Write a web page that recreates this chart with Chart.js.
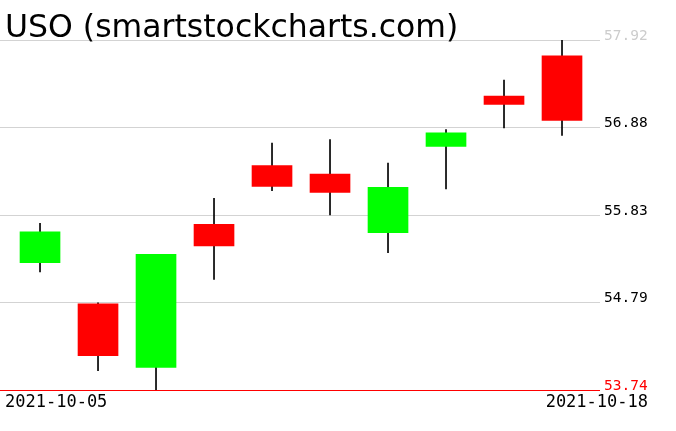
<!DOCTYPE html>
<html>
<head>
<meta charset="utf-8">
<script src="https://cdn.jsdelivr.net/npm/chart.js@4"></script>
<style>
  html, body { margin: 0; padding: 0; background: #fff; }
  #wrap { width: 676px; height: 431px; }
</style>
</head>
<body>
<div id="wrap"><canvas id="candleChart"></canvas></div>
<script>
const title = 'USO (smartstockcharts.com)';
const dates = ['2021-10-05', '2021-10-06', '2021-10-07', '2021-10-08', '2021-10-11',
               '2021-10-12', '2021-10-13', '2021-10-14', '2021-10-15', '2021-10-18'];
const opens  = [55.26, 54.77, 54.01, 55.72, 56.42, 56.32, 55.62, 56.65, 57.25, 57.73];
const highs  = [55.73, 54.78, 55.36, 56.03, 56.69, 56.73, 56.45, 56.85, 57.44, 57.92];
const lows   = [55.15, 53.97, 53.74, 55.06, 56.12, 55.83, 55.38, 56.14, 56.87, 56.78];
const closes = [55.63, 54.15, 55.36, 55.46, 56.17, 56.10, 56.16, 56.81, 57.15, 56.96];
const yTicks = [53.74, 54.79, 55.83, 56.88, 57.92];

const upColor = '#00ff00';
const downColor = '#ff0000';
const bodyColors = opens.map((o, i) => closes[i] >= o ? upColor : downColor);

// text that is not tied to a scale tick: title + first/last date
const textPlugin = {
  id: 'texts',
  afterDraw(chart) {
    const ctx = chart.ctx;
    ctx.save();
    ctx.fillStyle = '#000';
    ctx.textBaseline = 'alphabetic';
    ctx.font = '31.5px "DejaVu Sans"';
    ctx.textAlign = 'left';
    ctx.fillText(title, 5, 37);
    ctx.font = '17px "DejaVu Sans Mono"';
    ctx.fillText(dates[0], 5, 407);
    ctx.textAlign = 'right';
    ctx.fillText(dates[dates.length - 1], 648, 407);
    ctx.restore();
  }
};

const ctxCandle = document.getElementById('candleChart').getContext('2d');
const candleChart = new Chart(ctxCandle, {
  type: 'bar',
  data: {
    datasets: [
      {
        label: 'Wick',
        data: dates.map((d, i) => ({ x: i, y: [lows[i], highs[i]] })),
        backgroundColor: '#000',
        barThickness: 1,
        grouped: false,
        order: 2
      },
      {
        label: 'Body',
        data: dates.map((d, i) => ({ x: i, y: [opens[i], closes[i]] })),
        backgroundColor: bodyColors,
        barThickness: 40,
        grouped: false,
        order: 1
      }
    ]
  },
  options: {
    animation: false,
    responsive: true,
    maintainAspectRatio: false,
    layout: { padding: { top: 40, bottom: 41, left: 0, right: 0 } },
    scales: {
      x: {
        type: 'linear',
        offset: false,
        min: -0.69,
        max: 9.655,
        display: false
      },
      y: {
        position: 'right',
        min: yTicks[0],
        max: yTicks[yTicks.length - 1],
        afterBuildTicks: (scale) => { scale.ticks = yTicks.map(v => ({ value: v })); },
        afterFit: (scale) => { scale.width = 76; },
        border: { display: false },
        grid: {
          drawTicks: false,
          color: (c) => c.tick && c.tick.value === yTicks[0] ? '#ff0000' : '#d3d3d3'
        },
        ticks: {
          padding: 4,
          labelOffset: -4,
          font: { family: 'DejaVu Sans Mono', size: 14.5 },
          color: (c) => {
            if (c.tick.value === yTicks[0]) return '#ff0000';
            if (c.tick.value === yTicks[yTicks.length - 1]) return '#cccccc';
            return '#000';
          },
          callback: (v) => Number(v).toFixed(2)
        }
      }
    },
    plugins: {
      legend: { display: false },
      tooltip: { enabled: false }
    }
  },
  plugins: [textPlugin]
});
</script>
</body>
</html>
